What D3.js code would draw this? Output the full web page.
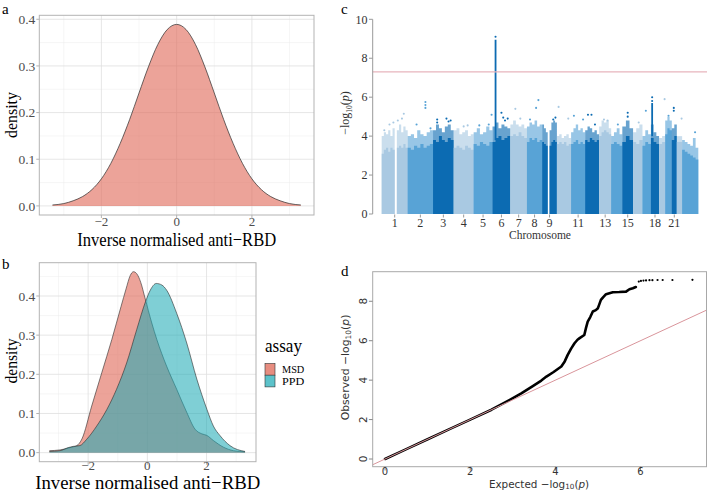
<!DOCTYPE html>
<html><head><meta charset="utf-8">
<script src="https://cdn.jsdelivr.net/npm/d3@7"></script>
<style>body{margin:0;background:#fff}svg{display:block}</style>
</head><body>
<svg id="fig" width="707" height="491"></svg>
<script>
// ================= DATA =================
// panel a: density of inverse-normalised anti-RBD
const densAX = [-3.3,-3.0,-2.75,-2.5,-2.25,-2.0,-1.75,-1.5,-1.25,-1.0,-0.75,-0.5,-0.25,0,0.25,0.5,0.75,1.0,1.25,1.5,1.75,2.0,2.25,2.5,2.75,3.0,3.3];
const densAY = [0.002,0.005,0.011,0.020,0.035,0.058,0.091,0.134,0.185,0.242,0.298,0.346,0.378,0.389,0.378,0.346,0.298,0.242,0.185,0.134,0.091,0.058,0.035,0.020,0.011,0.005,0.002];
// panel b: densities by assay
const assays = ["MSD","PPD"];
const msdX = [-3.31,-2.95,-2.55,-2.38,-2.21,-1.88,-1.54,-1.2,-0.89,-0.72,-0.58,-0.47,-0.36,-0.22,-0.08,0.15,0.32,0.65,0.99,1.33,1.61,1.84,2.01,2.23,2.57,2.91,3.3];
const msdY = [0.005,0.007,0.014,0.018,0.035,0.119,0.204,0.289,0.373,0.418,0.452,0.462,0.457,0.434,0.395,0.331,0.289,0.221,0.162,0.103,0.060,0.048,0.044,0.031,0.014,0.005,0.002];
const ppdX = [-3.31,-2.95,-2.67,-2.5,-2.28,-2.05,-1.71,-1.37,-1.04,-0.70,-0.36,-0.06,0.10,0.30,0.49,0.65,0.99,1.33,1.67,2.01,2.23,2.46,2.79,3.3];
const ppdY = [0.003,0.005,0.013,0.016,0.018,0.034,0.068,0.110,0.162,0.229,0.314,0.386,0.415,0.432,0.428,0.415,0.356,0.280,0.188,0.111,0.068,0.043,0.018,0.003];
const densTicksX = [-2,0,2];
const densTicksYa = [0,0.1,0.2,0.3,0.4];
const densTicksYb = [0,0.1,0.2,0.3,0.4];
// panel c: Manhattan plot (per chromosome)
const chromNames = ["1","2","3","4","5","6","7","8","9","10","11","12","13","14","15","16","17","18","19","20","21","22","X"];
const chromLengths = [249,243,198,191,181,171,159,146,141,136,135,134,115,107,103,90,81,78,59,63,48,51,155];
const chromLabels = ["1","2","3","4","5","6","7","8","9","11","13","15","18","21"];
const denseTop = [
 [3.1,3.3,3.4,3.2,3.4,3.3,0,3.4,3.5,3.4,3.6,3.4],
 [3.4,3.3,3.5,3.4,3.6,3.4,3.5,3.6],
 [3.8,3.7,4.0,3.8,3.7,3.9,3.8],
 [3.4,3.5,3.4,3.3,3.5,3.4,3.3],
 [3.6,3.5,3.7,3.6,3.5,3.7],
 [3.7,3.9,4.0,3.8,3.9,4.0],
 [4.0,4.1,4.0,4.2,4.0,3.9],
 [3.7,3.9,3.8,3.9,3.7,3.8],
 [3.7,3.6,3.5,0,3.5,3.7,3.8,3.7],
 [3.6,3.7,3.6,3.7,3.5,3.6],
 [3.6,3.7,3.8,3.6,3.7,3.6],
 [3.8,3.7,3.9,3.8,3.7,3.8],
 [4.0,4.2,4.3,4.2,4.1],
 [3.6,3.7,3.6,3.5],
 [3.7,4.0,3.8],
 [3.7,3.6,3.8],
 [3.5,3.7,3.6],
 [3.9,3.7,3.6],
 [3.6,3.7],
 [4.1,4.4,4.3],
 [3.8,4.0],
 [3.7],
 [3.3,3.2,3.1,3.0,2.9,2.8]
];
const fringeTop = [
 [4.0,4.2,4.1,4.3,4.0,4.4,0,4.3,4.6,4.2,4.5,4.3],
 [4.0,4.1,3.9,4.3,4.1,4.0,4.2,4.3],
 [4.3,4.6,4.4,4.2,4.5,4.6,4.3],
 [4.3,4.4,4.1,4.2,4.3,4.0,4.1],
 [4.2,4.4,4.1,4.2,4.5,4.3],
 [4.5,4.7,4.4,4.6,4.5,4.4],
 [4.6,4.8,4.6,4.5,4.6,4.4],
 [4.5,4.7,4.6,4.8,4.5,4.6],
 [4.6,4.4,4.2,0,4.3,4.7,4.8,4.7],
 [4.0,4.1,3.9,4.0,4.1,3.9],
 [4.2,4.4,4.6,4.3,4.4,4.2],
 [4.3,4.5,4.4,4.2,4.3,4.1],
 [4.5,4.8,4.7,4.8,4.4],
 [4.0,4.2,4.4,4.1],
 [4.5,4.8,4.4],
 [4.2,4.4,4.6],
 [4.0,4.3,4.1],
 [4.6,4.2,4.0],
 [3.9,4.0],
 [4.8,5.0,4.8],
 [4.4,4.6],
 [4.0],
 [3.8,3.7,3.6,3.5,3.9,3.4]
];
// scattered SNPs above the dense band: [chromosome index (1-based), fraction along chromosome, -log10 p]
const outliers = [
 [1,0.1,4.3],[1,0.3,4.6],[1,0.45,4.7],[1,0.62,4.8],[1,0.85,5.15],[1,0.78,4.9],
 [2,0.7,5.75],[2,0.7,5.6],[2,0.7,5.45],[2,0.35,4.6],[2,0.9,4.4],
 [3,0.2,4.85],[3,0.2,4.7],[3,0.65,4.9],[3,0.75,4.75],[3,0.85,4.8],
 [4,0.5,4.5],[4,0.7,4.55],
 [5,0.3,4.55],[5,0.8,4.6],[5,0.95,5.1],
 [6,0.17,9.1],[6,0.5,5.2],[6,0.6,4.95],[6,0.7,4.8],[6,0.85,4.9],
 [7,0.3,5.4],[7,0.6,4.9],
 [8,0.6,5.45],[8,0.75,5.85],[8,0.2,4.85],
 [9,0.75,4.85],[9,0.9,4.95],
 [10,0.12,5.5],[10,0.8,4.9],
 [11,0.2,5.05],[11,0.85,4.85],
 [12,0.2,5.1],[12,0.45,5.1],[12,0.7,4.6],
 [13,0.4,4.85],[13,0.7,4.8],
 [14,0.6,4.6],
 [15,0.5,5.2],[15,0.5,5.0],
 [16,0.6,4.7],
 [17,0.4,5.3],
 [18,0.15,6.0],[18,0.15,5.8],
 [19,0.9,5.9],
 [20,0.5,5.05],
 [21,0.4,5.45],[21,0.4,5.3],
 [22,0.9,4.9],
 [23,0.8,4.2]
];
// near-continuous columns of SNPs: [chromosome, fraction, from, to]
const peakColumns = [[6,0.17,3.8,8.95],[18,0.15,4.0,5.7]];
const gwThreshold = 7.3;
const manhattanTicksY = [0,2,4,6,8,10];
// panel d: QQ plot
const qqExp = [0,0.5,1,1.5,2,2.5,2.93,3.2,3.47,3.67,3.79,3.95,4.14,4.22,4.29,4.37,4.45,4.52,4.57,4.68,4.72,4.76,4.82,4.88,4.95,5.0,5.07,5.12,5.19,5.35,5.5,5.66,5.74,5.82,5.89];
const qqObs = [0,0.5,1,1.5,2,2.5,3.0,3.33,3.7,3.98,4.18,4.4,4.69,4.95,5.28,5.6,5.87,6.05,6.13,6.29,6.65,6.97,7.2,7.48,7.55,7.65,8.07,8.2,8.36,8.46,8.47,8.49,8.61,8.66,8.72];
const qqTailExp = [5.96,6.01,6.07,6.13,6.21,6.28,6.40,6.52,6.75,7.22];
const qqTailObs = [9.0,9.03,9.05,9.06,9.07,9.07,9.08,9.08,9.08,9.09];
const qqTicksX = [0,2,4,6];
const qqTicksY = [0,2,4,6,8];

// ================= DRAW =================
const svg = d3.select("#fig");
svg.append("rect").attr("width",707).attr("height",491).attr("fill","#fff");
const SERIF = "Liberation Serif, Times New Roman, serif";
const SANS = "DejaVu Sans, sans-serif";
const salmon = "#E06B5A", teal = "#1aa9b4";

function panelLetter(t,x,y){
  svg.append("text").attr("x",x).attr("y",y).text(t)
    .attr("font-family",SERIF).attr("font-size",15).attr("fill","#000");
}

function densityPanel(opt){
  const {x,y,xMinor,yMinor,xMajor,yMajor,g} = opt;
  const [x0,x1] = x.range(), [y0,y1] = y.range();
  g.append("g").selectAll("line").data(xMinor).join("line")
    .attr("x1",d=>x(d)).attr("x2",d=>x(d)).attr("y1",y0).attr("y2",y1)
    .attr("stroke","#ececec").attr("stroke-width",0.5);
  g.append("g").selectAll("line").data(yMinor).join("line")
    .attr("y1",d=>y(d)).attr("y2",d=>y(d)).attr("x1",x0).attr("x2",x1)
    .attr("stroke","#ececec").attr("stroke-width",0.5);
  g.append("g").selectAll("line").data(xMajor).join("line")
    .attr("x1",d=>x(d)).attr("x2",d=>x(d)).attr("y1",y0).attr("y2",y1)
    .attr("stroke","#e0e0e0").attr("stroke-width",0.8);
  g.append("g").selectAll("line").data(yMajor).join("line")
    .attr("y1",d=>y(d)).attr("y2",d=>y(d)).attr("x1",x0).attr("x2",x1)
    .attr("stroke","#e0e0e0").attr("stroke-width",0.8);
}
function densityAxes(opt){
  const {x,y,xMajor,yMajor,g,xLabelY} = opt;
  const [x0,x1] = x.range(), [y0,y1] = y.range();
  g.append("rect").attr("x",x0).attr("y",y1).attr("width",x1-x0).attr("height",y0-y1)
    .attr("fill","none").attr("stroke","#b3b3b3").attr("stroke-width",1);
  g.append("g").selectAll("line").data(xMajor).join("line")
    .attr("x1",d=>x(d)).attr("x2",d=>x(d)).attr("y1",y0).attr("y2",y0+3)
    .attr("stroke","#b3b3b3");
  g.append("g").selectAll("line").data(yMajor).join("line")
    .attr("y1",d=>y(d)).attr("y2",d=>y(d)).attr("x1",x0-3).attr("x2",x0)
    .attr("stroke","#b3b3b3");
  g.append("g").selectAll("text").data(xMajor).join("text")
    .attr("x",d=>x(d)).attr("y",xLabelY).attr("text-anchor","middle")
    .attr("font-family",SERIF).attr("font-size",13).attr("fill","#4d4d4d")
    .text(d=>d<0?"\u2212"+Math.abs(d):d);
  g.append("g").selectAll("text").data(yMajor).join("text")
    .attr("x",x0-4).attr("y",d=>y(d)).attr("dy","0.35em").attr("text-anchor","end")
    .attr("font-family",SERIF).attr("font-size",13.5).attr("fill","#4d4d4d")
    .text(d=>d3.format(".1f")(d));
}

// ---------- panel a ----------
{
  const g = svg.append("g");
  const x = d3.scaleLinear().domain([-3.65,3.65]).range([39.3,314]);
  const y = d3.scaleLinear().domain([-0.0195,0.4085]).range([215,15.3]);
  densityPanel({x,y,g,xMajor:densTicksX,yMajor:densTicksYa,xMinor:[-3,-1,1,3],yMinor:[0.05,0.15,0.25,0.35]});
  const pts = densAX.map((d,i)=>[d,densAY[i]]);
  g.append("path").datum(pts)
    .attr("d",d3.area().x(d=>x(d[0])).y0(y(0)).y1(d=>y(d[1])).curve(d3.curveMonotoneX))
    .attr("fill",salmon).attr("fill-opacity",0.62);
  g.append("path").datum(pts)
    .attr("d",d3.line().x(d=>x(d[0])).y(d=>y(d[1])).curve(d3.curveMonotoneX))
    .attr("fill","none").attr("stroke","#2b2b2b").attr("stroke-width",0.7);
  densityAxes({x,y,g,xMajor:densTicksX,yMajor:densTicksYa,xLabelY:226});
  g.append("text").attr("x",176.7).attr("y",245.5).attr("text-anchor","middle")
    .attr("font-family",SERIF).attr("font-size",19.5).attr("textLength",199).attr("lengthAdjust","spacingAndGlyphs")
    .text("Inverse normalised anti\u2212RBD");
  g.append("text").attr("transform","translate(16.5,115) rotate(-90)").attr("text-anchor","middle")
    .attr("font-family",SERIF).attr("font-size",16).attr("textLength",46).attr("lengthAdjust","spacingAndGlyphs")
    .text("density");
  panelLetter("a",2,13.5);
}

// ---------- panel b ----------
{
  const g = svg.append("g");
  const x = d3.scaleLinear().domain([-3.65,3.67]).range([39.3,256]);
  const y = d3.scaleLinear().domain([-0.0231,0.485]).range([461.7,262.7]);
  densityPanel({x,y,g,xMajor:densTicksX,yMajor:densTicksYb,xMinor:[-3,-1,1,3],yMinor:[0.05,0.15,0.25,0.35,0.45]});
  const series = [
    {name:assays[0], pts: msdX.map((d,i)=>[d,msdY[i]]), color: salmon, op:0.62},
    {name:assays[1], pts: ppdX.map((d,i)=>[d,ppdY[i]]), color: teal, op:0.56}
  ];
  series.forEach(s=>{
    g.append("path").datum(s.pts)
      .attr("d",d3.area().x(d=>x(d[0])).y0(y(0)).y1(d=>y(d[1])).curve(d3.curveMonotoneX))
      .attr("fill",s.color).attr("fill-opacity",s.op);
    g.append("path").datum(s.pts)
      .attr("d",d3.line().x(d=>x(d[0])).y(d=>y(d[1])).curve(d3.curveMonotoneX))
      .attr("fill","none").attr("stroke","#2b2b2b").attr("stroke-width",0.6);
  });
  densityAxes({x,y,g,xMajor:densTicksX,yMajor:densTicksYb,xLabelY:470});
  g.append("text").attr("x",147.7).attr("y",488.5).attr("text-anchor","middle")
    .attr("font-family",SERIF).attr("font-size",19.5).attr("textLength",225).attr("lengthAdjust","spacingAndGlyphs")
    .text("Inverse normalised anti\u2212RBD");
  g.append("text").attr("transform","translate(16.5,361) rotate(-90)").attr("text-anchor","middle")
    .attr("font-family",SERIF).attr("font-size",16).attr("textLength",45).attr("lengthAdjust","spacingAndGlyphs")
    .text("density");
  // legend
  const lg = g.append("g");
  lg.append("text").attr("x",265).attr("y",351.5).text("assay")
    .attr("font-family",SERIF).attr("font-size",18).attr("textLength",37).attr("lengthAdjust","spacingAndGlyphs");
  series.forEach((s,i)=>{
    lg.append("rect").attr("x",265).attr("y",363.5+i*11.7).attr("width",10).attr("height",11.7)
      .attr("fill","#fff");
    lg.append("rect").attr("x",265).attr("y",363.5+i*11.7).attr("width",10).attr("height",11.7)
      .attr("fill",s.color).attr("fill-opacity",s.op+0.15).attr("stroke","#333").attr("stroke-width",0.6);
    lg.append("text").attr("x",282).attr("y",373.3+i*11.9).text(s.name)
      .attr("font-family",SERIF).attr("font-size",10.5).attr("textLength",22.3).attr("lengthAdjust","spacingAndGlyphs");
  });
  panelLetter("b",2,269);
}

// ---------- panel c: Manhattan ----------
{
  const g = svg.append("g");
  const total = d3.sum(chromLengths);
  const starts = d3.cumsum([0].concat(chromLengths.slice(0,-1)));
  const x = d3.scaleLinear().domain([0,total]).range([381.7,698.3]);
  const y = d3.scaleLinear().domain([0,10]).range([214,19.3]);
  const cols = ["#a9c9e2","#58a3d6","#0c6bb2"];
  const stepArea = d3.area().x(d=>x(d[0])).y0(y(0)).y1(d=>y(d[1])).curve(d3.curveStepAfter);
  chromLengths.forEach((len,ci)=>{
    const s = starts[ci], col = cols[ci%3];
    const mk = arr => { const n = arr.length;
      const p = arr.map((v,i)=>[s+len*i/n, v]); p.push([s+len, arr[n-1]]); return p; };
    g.append("path").datum(mk(fringeTop[ci])).attr("d",stepArea).attr("fill",col).attr("fill-opacity",0.62);
    g.append("path").datum(mk(denseTop[ci])).attr("d",stepArea).attr("fill",col);
  });
  g.append("g").selectAll("rect").data(peakColumns).join("rect")
    .attr("x",d=>x(starts[d[0]-1]+chromLengths[d[0]-1]*d[1])-0.9).attr("width",1.8)
    .attr("y",d=>y(d[3])).attr("height",d=>y(d[2])-y(d[3]))
    .attr("fill",d=>cols[(d[0]-1)%3]);
  g.append("g").selectAll("circle").data(outliers).join("circle")
    .attr("cx",d=>x(starts[d[0]-1]+chromLengths[d[0]-1]*d[1])).attr("cy",d=>y(d[2])).attr("r",1.05)
    .attr("fill",d=>cols[(d[0]-1)%3]);
  g.append("line").attr("x1",372.7).attr("x2",707).attr("y1",y(gwThreshold)).attr("y2",y(gwThreshold))
    .attr("stroke","#e7b5bd").attr("stroke-width",1.4);
  g.append("line").attr("x1",372.7).attr("x2",372.7).attr("y1",y(0)).attr("y2",y(10)).attr("stroke","#999");
  g.append("g").selectAll("line").data(manhattanTicksY).join("line")
    .attr("x1",369).attr("x2",372.7).attr("y1",d=>y(d)).attr("y2",d=>y(d)).attr("stroke","#999");
  g.append("g").selectAll("text").data(manhattanTicksY).join("text")
    .attr("x",367.5).attr("y",d=>y(d)).attr("dy","0.35em").attr("text-anchor","end")
    .attr("font-family",SERIF).attr("font-size",12).attr("fill","#333").text(d=>d);
  const lab = chromLabels.map(l=>{const i=chromNames.indexOf(l); return {l, c: starts[i]+chromLengths[i]/2};});
  g.append("g").selectAll("line").data(lab).join("line")
    .attr("x1",d=>x(d.c)).attr("x2",d=>x(d.c)).attr("y1",214.5).attr("y2",217.5).attr("stroke","#999");
  g.append("g").selectAll("text").data(lab).join("text")
    .attr("x",d=>x(d.c)).attr("y",226.5).attr("text-anchor","middle")
    .attr("font-family",SERIF).attr("font-size",12).attr("fill","#333").text(d=>d.l);
  g.append("text").attr("x",540).attr("y",238.5).attr("text-anchor","middle")
    .attr("font-family",SERIF).attr("font-size",11.5).attr("fill","#333").text("Chromosome");
  const yt = g.append("text").attr("transform","translate(349,113) rotate(-90)").attr("text-anchor","middle")
    .attr("font-family",SERIF).attr("font-size",12).attr("fill","#333");
  yt.append("tspan").text("\u2212log");
  yt.append("tspan").attr("font-size",7.5).attr("dy",2.5).text("10");
  yt.append("tspan").attr("dy",-2.5).text("(");
  yt.append("tspan").attr("font-style","italic").text("p");
  yt.append("tspan").text(")");
  panelLetter("c",341,13.5);
}

// ---------- panel d: QQ ----------
{
  const g = svg.append("g");
  const x = d3.scaleLinear().domain([-0.29,7.55]).range([372.7,706.5]);
  const y = d3.scaleLinear().domain([-0.39,9.5]).range([466.7,271.7]);
  g.append("clipPath").attr("id","qqclip").append("rect")
    .attr("x",372.7).attr("y",271.7).attr("width",706.5-372.7).attr("height",466.7-271.7);
  const pts = qqExp.map((d,i)=>[d,qqObs[i]]);
  g.append("path").datum(pts).attr("d",d3.line().x(d=>x(d[0])).y(d=>y(d[1])))
    .attr("fill","none").attr("stroke","#000").attr("stroke-width",2.6)
    .attr("stroke-linejoin","round").attr("stroke-linecap","round");
  g.append("g").selectAll("circle").data(qqTailExp.map((d,i)=>[d,qqTailObs[i]])).join("circle")
    .attr("cx",d=>x(d[0])).attr("cy",d=>y(d[1])).attr("r",1.1).attr("fill","#000");
  g.append("line").attr("clip-path","url(#qqclip)")
    .attr("x1",x(-0.5)).attr("y1",y(-0.5)).attr("x2",x(8)).attr("y2",y(8))
    .attr("stroke","#d9959b").attr("stroke-width",1);
  g.append("rect").attr("x",372.7).attr("y",271.7).attr("width",706.5-372.7).attr("height",466.7-271.7)
    .attr("fill","none").attr("stroke","#a8a8a8").attr("stroke-width",1);
  g.append("g").selectAll("line").data(qqTicksX).join("line")
    .attr("x1",d=>x(d)).attr("x2",d=>x(d)).attr("y1",466.7).attr("y2",470.5).attr("stroke","#888");
  g.append("g").selectAll("text").data(qqTicksX).join("text")
    .attr("x",d=>x(d)).attr("y",475.3).attr("text-anchor","middle")
    .attr("font-family",SANS).attr("font-size",10).attr("fill","#333").text(d=>d);
  g.append("g").selectAll("line").data(qqTicksY).join("line")
    .attr("x1",368.9).attr("x2",372.7).attr("y1",d=>y(d)).attr("y2",d=>y(d)).attr("stroke","#888");
  g.append("g").selectAll("text").data(qqTicksY).join("text")
    .attr("transform",d=>`translate(366.5,${y(d)}) rotate(-90)`).attr("text-anchor","middle")
    .attr("font-family",SANS).attr("font-size",10.5).attr("fill","#333").text(d=>d);
  const xt = g.append("text").attr("x",539).attr("y",487.5).attr("text-anchor","middle")
    .attr("font-family",SANS).attr("font-size",10.4).attr("fill","#333");
  xt.append("tspan").text("Expected  \u2212log");
  xt.append("tspan").attr("font-size",7.2).attr("dy",1.8).text("10");
  xt.append("tspan").attr("dy",-1.8).text("(");
  xt.append("tspan").attr("font-style","italic").text("p");
  xt.append("tspan").text(")");
  const yt = g.append("text").attr("transform","translate(348.5,367.5) rotate(-90)").attr("text-anchor","middle")
    .attr("font-family",SANS).attr("font-size",10.8).attr("fill","#333");
  yt.append("tspan").text("Observed  \u2212log");
  yt.append("tspan").attr("font-size",7.5).attr("dy",2.5).text("10");
  yt.append("tspan").attr("dy",-2.5).text("(");
  yt.append("tspan").attr("font-style","italic").text("p");
  yt.append("tspan").text(")");
  panelLetter("d",341,276);
}
</script>
</body></html>
